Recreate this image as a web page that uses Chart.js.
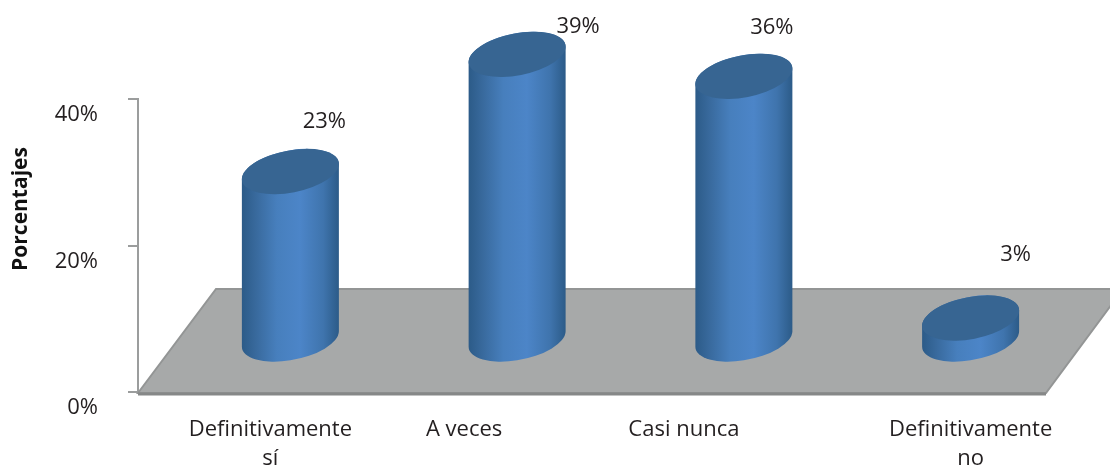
<!DOCTYPE html>
<html lang="es">
<head>
<meta charset="utf-8">
<title>Porcentajes</title>
<script src="https://cdn.jsdelivr.net/npm/chart.js@4"></script>
<style>
    html, body { margin: 0; padding: 0; background: #fff; }
    #wrap { width: 1110px; height: 466px; }
</style>
</head>
<body>
<div id="wrap"><canvas id="chart" width="1110" height="466"></canvas></div>
<script>
// ─── DATA ─────────────────────────────────────────────────
const categories = [['Definitivamente', 'sí'], ['A veces'], ['Casi nunca'], ['Definitivamente', 'no']];
const values = [23, 39, 36, 3];
const tickLabels = ['0%', '20%', '40%'];
const yTitle = 'Porcentajes';

// ─── 3D LOOK ──────────────────────────────────────────────
const FONT = '"Open Sans", sans-serif';
const TEXT = '#231f20';
const depthX = 78, depthY = 104;      // floor skew
const tilt = -11 * Math.PI / 180;     // cap ellipse rotation
const capRy = 21;
const catNudge = [19, -14, -21, 39];  // category labels are not centred under the bars
const valNudge = [[34, -50], [61, -28], [28, -49], [45, -63]];

const floor3d = {
    id: 'floor3d',
    beforeDatasetsDraw(chart) {
        const { ctx, chartArea: a } = chart;
        const b = a.bottom + 1;
        ctx.save();
        ctx.beginPath();
        ctx.moveTo(a.left, b);
        ctx.lineTo(a.left + depthX, b - depthY);
        ctx.lineTo(a.right + depthX, b - depthY);
        ctx.lineTo(a.right + 1, b);
        ctx.closePath();
        ctx.fillStyle = '#a7a9a9';
        ctx.fill();
        ctx.lineWidth = 2;
        ctx.strokeStyle = '#939595';
        ctx.stroke();
        // front edge is heavier
        ctx.beginPath();
        ctx.moveTo(a.left, b + 1);
        ctx.lineTo(a.right + 1, b + 1);
        ctx.lineWidth = 3;
        ctx.strokeStyle = '#868888';
        ctx.stroke();
        ctx.restore();
    }
};

const cylinders = {
    id: 'cylinders',
    afterDatasetsDraw(chart) {
        const { ctx } = chart;
        chart.getDatasetMeta(0).data.forEach(bar => {
            const cx = bar.x + depthX / 2;
            const top = bar.y - depthY / 2;
            const base = bar.base - depthY / 2;
            const half = bar.width / 2;
            const rx = Math.sqrt((half * half - Math.pow(capRy * Math.sin(tilt), 2))) / Math.cos(tilt);
            const t0 = Math.atan2(-capRy * Math.sin(tilt), rx * Math.cos(tilt));

            const g = ctx.createLinearGradient(cx - half, 0, cx + half, 0);
            g.addColorStop(0, '#2c5b88');
            g.addColorStop(0.14, '#38699c');
            g.addColorStop(0.36, '#477fbd');
            g.addColorStop(0.6, '#4c85c8');
            g.addColorStop(0.84, '#3f74ad');
            g.addColorStop(1, '#2c5b88');

            ctx.save();
            ctx.beginPath();
            ctx.ellipse(cx, base, rx, capRy, tilt, t0, t0 + Math.PI);
            ctx.ellipse(cx, top, rx, capRy, tilt, t0 + Math.PI, t0 + 2 * Math.PI);
            ctx.closePath();
            ctx.fillStyle = g;
            ctx.fill();

            ctx.beginPath();
            ctx.ellipse(cx, top, rx, capRy, tilt, 0, 2 * Math.PI);
            ctx.fillStyle = '#376592';
            ctx.fill();
            ctx.restore();
        });
    }
};

const textLabels = {
    id: 'textLabels',
    afterDraw(chart) {
        const { ctx, scales: { x } } = chart;
        ctx.save();
        ctx.font = '22px ' + FONT;
        ctx.fillStyle = TEXT;
        ctx.textAlign = 'center';
        ctx.textBaseline = 'middle';
        categories.forEach((lines, i) => {
            lines.forEach((line, j) => {
                ctx.fillText(line, x.getPixelForTick(i) + catNudge[i], 430 + j * 29);
            });
        });
        chart.getDatasetMeta(0).data.forEach((bar, i) => {
            const top = bar.y - depthY / 2;
            ctx.fillText(values[i] + '%', bar.x + depthX / 2 + valNudge[i][0], top + valNudge[i][1]);
        });
        // axis title sits above the middle of the axis
        ctx.translate(21, 209);
        ctx.rotate(-Math.PI / 2);
        ctx.font = 'bold 21px ' + FONT;
        ctx.fillStyle = '#111';
        ctx.fillText(yTitle, 0, 0);
        ctx.restore();
    }
};

new Chart(document.getElementById('chart').getContext('2d'), {
    type: 'bar',
    data: {
        labels: categories,
        datasets: [{
            data: values,
            backgroundColor: 'transparent',
            borderWidth: 0,
            barThickness: 97
        }]
    },
    options: {
        responsive: false,
        animation: false,
        layout: { padding: { top: 99, right: 65, bottom: 66, left: 0 } },
        plugins: { legend: { display: false }, tooltip: { enabled: false } },
        scales: {
            x: {
                ticks: { display: false },
                grid: { display: false },
                border: { display: false }
            },
            y: {
                min: 0,
                max: 40,
                afterFit(scale) { scale.width = 138; },
                afterBuildTicks(scale) {
                    scale.ticks = tickLabels.map(t => ({ value: parseFloat(t) }));
                },
                ticks: {
                    callback: v => v + '%',
                    color: TEXT,
                    font: { family: FONT, size: 22 },
                    padding: 30,
                    labelOffset: 16
                },
                grid: { drawOnChartArea: false, tickLength: 10, color: '#9b9d9d', lineWidth: 2 },
                border: { color: '#9b9d9d', width: 2 }
            }
        }
    },
    plugins: [floor3d, cylinders, textLabels]
});
</script>
</body>
</html>
